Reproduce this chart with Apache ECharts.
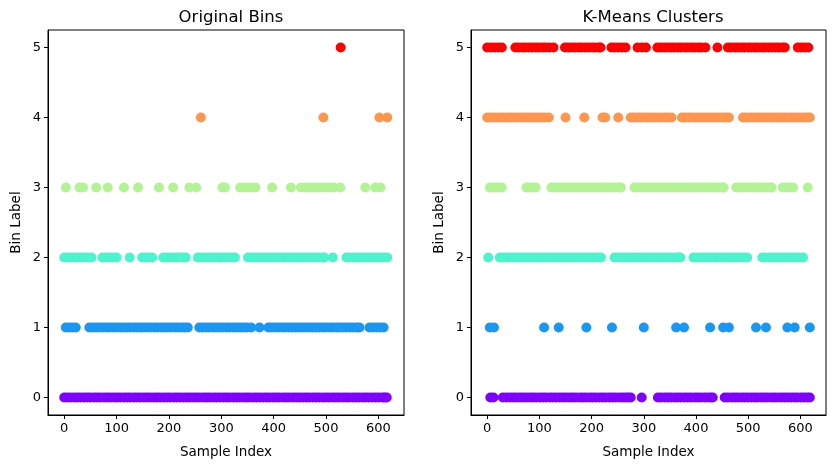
<!DOCTYPE html>
<html>
<head>
<meta charset="utf-8">
<script src="https://cdn.jsdelivr.net/npm/echarts@6/dist/echarts.min.js"></script>
<style>
  html, body { margin: 0; padding: 0; background: #fff; }
  #main { width: 833px; height: 468px; }
</style>
</head>
<body>
<div id="main"></div>
<script>
; (function () {

    // sample indices falling in each original bin
    var orig0 = [0, 6, 12, 19, 25, 31, 38, 44, 50, 57, 63, 69, 76, 82, 88, 95, 101, 107, 114, 120, 126, 133, 139, 145, 152, 158, 164, 171, 177, 183, 190, 196, 202, 209, 215, 221, 228, 234, 240, 247, 253, 259, 266, 272, 278, 285, 291, 297, 304, 310, 316, 323, 329, 335, 342, 348, 354, 361, 367, 373, 380, 386, 392, 399, 405, 411, 418, 424, 430, 437, 443, 449, 456, 462, 468, 475, 481, 487, 494, 500, 506, 513, 519, 525, 532, 538, 544, 551, 557, 563, 570, 576, 582, 589, 595, 601, 608, 612, 616];
    var orig1 = [3, 9, 15, 22, 48, 55, 61, 68, 74, 81, 87, 94, 100, 107, 113, 120, 126, 133, 139, 146, 152, 159, 165, 172, 178, 185, 191, 198, 204, 211, 217, 224, 230, 236, 258, 264, 271, 277, 284, 290, 297, 303, 310, 316, 323, 329, 336, 342, 349, 357, 373, 390, 396, 403, 409, 416, 422, 429, 435, 442, 448, 455, 461, 468, 474, 481, 487, 494, 500, 507, 513, 520, 526, 533, 539, 546, 552, 559, 564, 583, 590, 597, 604, 610];
    var orig2 = [0, 6, 12, 19, 25, 32, 38, 45, 52, 73, 80, 87, 94, 100, 125, 149, 155, 162, 168, 189, 195, 202, 208, 215, 221, 227, 232, 255, 261, 268, 274, 281, 287, 294, 300, 307, 313, 320, 326, 351, 357, 364, 370, 377, 383, 390, 396, 403, 409, 416, 422, 429, 435, 442, 448, 455, 461, 468, 474, 481, 487, 494, 497, 513, 539, 545, 552, 558, 565, 571, 578, 584, 591, 597, 604, 610, 617];
    var orig3 = [3, 29, 36, 61, 83, 114, 141, 181, 208, 239, 252, 302, 307, 336, 346, 355, 365, 397, 433, 452, 461, 470, 479, 488, 497, 506, 515, 527, 575, 594, 604];
    var orig4 = [261, 495, 602, 617];
    var orig5 = [528];

    // sample indices in each k-means cluster
    var km0 = [6, 12, 30, 37, 44, 50, 56, 63, 69, 75, 82, 88, 94, 101, 107, 113, 120, 126, 132, 139, 145, 151, 158, 164, 170, 177, 183, 189, 196, 202, 208, 215, 221, 227, 234, 240, 246, 253, 259, 265, 270, 275, 296, 327, 333, 340, 346, 352, 359, 365, 371, 378, 384, 390, 397, 403, 409, 416, 422, 428, 432, 455, 461, 468, 474, 480, 487, 493, 499, 506, 512, 518, 525, 531, 537, 544, 550, 556, 563, 569, 575, 582, 588, 594, 601, 607, 613, 618];
    var km1 = [5, 13, 109, 137, 190, 239, 300, 362, 377, 427, 452, 463, 515, 534, 575, 589, 618];
    var km2 = [2, 24, 30, 37, 43, 50, 56, 63, 69, 76, 82, 89, 95, 102, 108, 115, 121, 128, 134, 141, 147, 154, 160, 167, 173, 180, 186, 193, 199, 206, 212, 218, 244, 250, 257, 263, 270, 276, 283, 289, 296, 302, 309, 315, 322, 328, 335, 341, 348, 354, 361, 367, 370, 395, 401, 408, 414, 421, 427, 434, 440, 447, 453, 460, 466, 473, 479, 486, 492, 498, 527, 533, 540, 546, 553, 559, 566, 572, 579, 585, 592, 598, 605];
    var km3 = [5, 11, 17, 23, 28, 75, 81, 87, 93, 123, 129, 136, 142, 149, 155, 162, 168, 175, 181, 188, 194, 201, 207, 214, 220, 227, 233, 240, 246, 252, 256, 282, 288, 295, 301, 308, 314, 321, 327, 334, 340, 347, 353, 360, 366, 373, 379, 386, 392, 399, 405, 412, 418, 425, 431, 438, 444, 451, 453, 477, 483, 490, 496, 503, 509, 516, 522, 529, 535, 542, 545, 566, 572, 579, 586, 614];
    var km4 = [0, 6, 13, 19, 26, 32, 39, 45, 52, 58, 65, 71, 78, 84, 91, 97, 104, 110, 118, 150, 186, 221, 226, 251, 275, 281, 288, 294, 301, 307, 314, 320, 327, 333, 340, 346, 353, 373, 379, 386, 392, 399, 405, 412, 418, 425, 431, 438, 444, 451, 457, 463, 490, 496, 503, 509, 516, 522, 529, 535, 542, 548, 555, 561, 568, 574, 581, 587, 594, 600, 607, 613, 618];
    var km5 = [0, 7, 14, 21, 28, 54, 60, 67, 73, 80, 86, 93, 99, 106, 112, 119, 127, 149, 155, 162, 168, 175, 181, 188, 194, 201, 207, 214, 217, 238, 244, 251, 258, 265, 288, 296, 304, 326, 332, 339, 345, 352, 358, 365, 371, 378, 384, 391, 397, 404, 410, 418, 441, 461, 467, 474, 480, 487, 493, 500, 506, 513, 519, 526, 532, 539, 545, 552, 558, 565, 570, 595, 601, 608, 615];

    var xTicks = [0, 100, 200, 300, 400, 500, 600];
    var yTicks = [0, 1, 2, 3, 4, 5];
    var colors = ['#8000ff', '#1a96f3', '#4df3ce', '#b3f396', '#ff964f', '#ff0000'];

    var origRows = [orig0, orig1, orig2, orig3, orig4, orig5];
    var kmRows = [km0, km1, km2, km3, km4, km5];

    var font = 'DejaVu Sans';
    var grids = [
        { left: 48, top: 30, width: 356, height: 385 },
        { left: 471, top: 30, width: 355, height: 385 }
    ];

    function xAxisFor(i) {
        return {
            gridIndex: i,
            type: 'value',
            min: -31,
            max: 649,
            name: 'Sample Index',
            nameLocation: 'middle',
            nameGap: 30,
            nameTextStyle: { color: '#000', fontSize: 13.5, fontFamily: font },
            axisLine: { show: true, onZero: false, lineStyle: { color: '#000', width: 1 } },
            axisTick: { show: true, inside: false, length: 4, customValues: xTicks, lineStyle: { color: '#000' } },
            axisLabel: { customValues: xTicks, color: '#000', fontSize: 13, fontFamily: font, margin: 7 },
            splitLine: { show: false }
        };
    }

    function yAxisFor(i) {
        return {
            gridIndex: i,
            type: 'value',
            min: -0.25,
            max: 5.25,
            name: 'Bin Label',
            nameLocation: 'middle',
            nameGap: 25,
            nameTextStyle: { color: '#000', fontSize: 13.5, fontFamily: font },
            axisLine: { show: true, onZero: false, lineStyle: { color: '#000', width: 1 } },
            axisTick: { show: true, inside: false, length: 4, customValues: yTicks, lineStyle: { color: '#000' } },
            axisLabel: { customValues: yTicks, color: '#000', fontSize: 13, fontFamily: font, margin: 7 },
            splitLine: { show: false }
        };
    }

    var series = [];
    [origRows, kmRows].forEach(function (rows, g) {
        rows.forEach(function (xs, label) {
            series.push({
                type: 'scatter',
                xAxisIndex: g,
                yAxisIndex: g,
                symbolSize: 10,
                itemStyle: { color: colors[label], opacity: 1 },
                data: xs.map(function (x) { return [x, label]; })
            });
        });
    });

    var myEchartObj = echarts.init(document.getElementById('main'));
    var option = {
        backgroundColor: '#fff',
        animation: false,
        title: [
            {
                text: 'Original Bins', left: 226, top: 4, textAlign: 'center',
                textStyle: { color: '#000', fontSize: 16.5, fontWeight: 'normal', fontFamily: font }
            },
            {
                text: 'K-Means Clusters', left: 648, top: 4, textAlign: 'center',
                textStyle: { color: '#000', fontSize: 16.5, fontWeight: 'normal', fontFamily: font }
            }
        ],
        grid: grids.map(function (g) {
            return {
                left: g.left, top: g.top, width: g.width, height: g.height,
                show: true, borderColor: '#000', borderWidth: 1, backgroundColor: 'transparent'
            };
        }),
        xAxis: [xAxisFor(0), xAxisFor(1)],
        yAxis: [yAxisFor(0), yAxisFor(1)],
        series: series
    };
    myEchartObj.setOption(option);
})();
</script>
</body>
</html>
